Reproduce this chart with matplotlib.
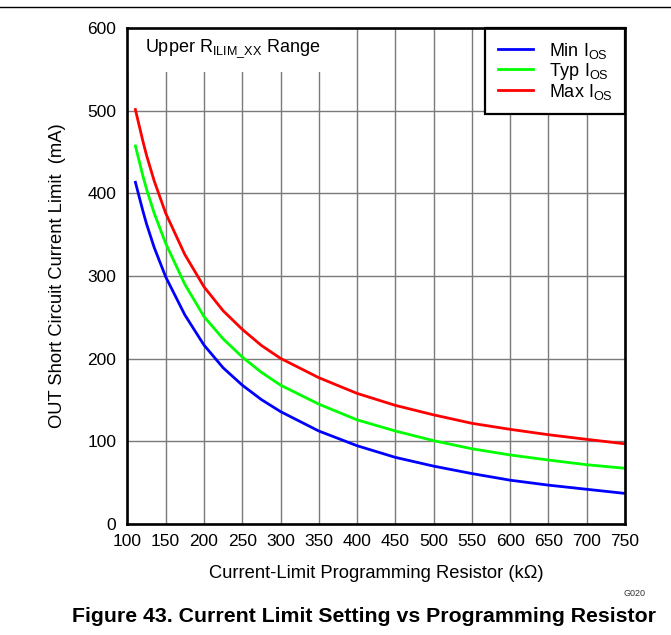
import numpy as np
import matplotlib
matplotlib.use('Agg')
import matplotlib.pyplot as plt
import matplotlib.patches as mpatches
import matplotlib.lines as mlines

plt.rcParams['font.family'] = ['Liberation Sans', 'DejaVu Sans']
plt.rcParams['mathtext.fontset'] = 'custom'
plt.rcParams['mathtext.rm'] = 'Liberation Sans'
plt.rcParams['mathtext.it'] = 'Liberation Sans:italic'
plt.rcParams['mathtext.default'] = 'rm'

# resistor (kOhm)
r_kohm = [110, 120, 125, 135, 150, 175, 200, 225, 250, 275, 300, 350, 400, 450, 500, 550, 600, 650, 700, 750]
# short circuit current limit (mA)
i_min = [415, 379.5, 363, 334.5, 299, 253, 216.5, 189, 168, 150.5, 136, 112.5, 94.7, 80.6, 70, 61, 53, 47, 42, 37]
i_typ = [459, 422, 405, 376, 339.5, 290, 251, 224, 202, 183.5, 168, 145, 126, 112.5, 100.8, 91, 83.5, 77.4, 71.7, 67.4]
i_max = [503, 464, 446, 415, 376, 326, 287, 258, 235.5, 216, 200.4, 177, 158, 143.5, 132, 121.8, 114.5, 108, 102.4, 97]

series_names = ['Min I$_{OS}$', 'Typ I$_{OS}$', 'Max I$_{OS}$']
series_colors = ['#0000ff', '#00ff00', '#ff0000']

xticks = list(range(100, 751, 50))
yticks = list(range(0, 601, 100))

fig = plt.figure(figsize=(6.71, 6.35), dpi=100)
ax = fig.add_axes([127.4 / 671, 1 - 524 / 635, (625 - 127.4) / 671, (524 - 28) / 635])

for yy, c in zip([i_min, i_typ, i_max], series_colors):
    ax.plot(r_kohm, yy, color=c, lw=2.0, zorder=3, solid_capstyle='butt', solid_joinstyle='round')

ax.set_xlim(100, 750)
ax.set_ylim(0, 600)
ax.set_xticks(xticks)
ax.set_yticks(yticks)
ax.tick_params(length=0, labelsize=12.5)
ax.tick_params(axis='y', pad=8)
ax.tick_params(axis='x', pad=7)
ax.grid(True, color='#7a7a7a', lw=1.0, zorder=1)
ax.set_axisbelow(True)
for s in ax.spines.values():
    s.set_linewidth(1.9)
    s.set_color('black')
    s.set_zorder(6)

ax.set_xlabel('Current-Limit Programming Resistor (k\u03a9)', fontsize=13.2, va='center')
ax.xaxis.set_label_coords(0.5, -(574 - 524) / 496)
ax.set_ylabel('OUT Short Circuit Current Limit  (mA)', fontsize=13.2, va='center', ha='center')
ax.yaxis.set_label_coords(-(127.4 - 57) / 497.6, 0.5)

# white box behind the range label
ax.add_patch(mpatches.Rectangle((0, 0.911), 0.417, 0.089, transform=ax.transAxes,
                                facecolor='white', edgecolor='none', zorder=2))
ax.text(0.035, 0.958, 'Upper R$_{\\mathrm{ILIM\\_XX}}$ Range', transform=ax.transAxes,
        fontsize=13, va='center', ha='left', zorder=4)

handles = [mlines.Line2D([], [], color=c, lw=2.0) for c in series_colors]
leg = ax.legend(handles, series_names, loc='upper right', bbox_to_anchor=(1.0, 1.0),
                fontsize=13, frameon=True, fancybox=False, framealpha=1,
                edgecolor='black', borderaxespad=0, handlelength=1.95,
                labelspacing=0.0, borderpad=0.7, handletextpad=0.85)
leg.get_frame().set_linewidth(1.6)
leg.set_zorder(5)

# top rule line
fig.add_artist(mlines.Line2D([0, 1], [1 - 7 / 635, 1 - 7 / 635], color='black', lw=1.0))

fig.text(646 / 671, 1 - 593 / 635, 'G020', fontsize=6.5, ha='right', va='center', color='#333333')
fig.text(364 / 671, 1 - 617 / 635, 'Figure 43. Current Limit Setting vs Programming Resistor',
         fontsize=15.3, fontweight='bold', ha='center', va='center')

fig.savefig('out.png', dpi=100)
